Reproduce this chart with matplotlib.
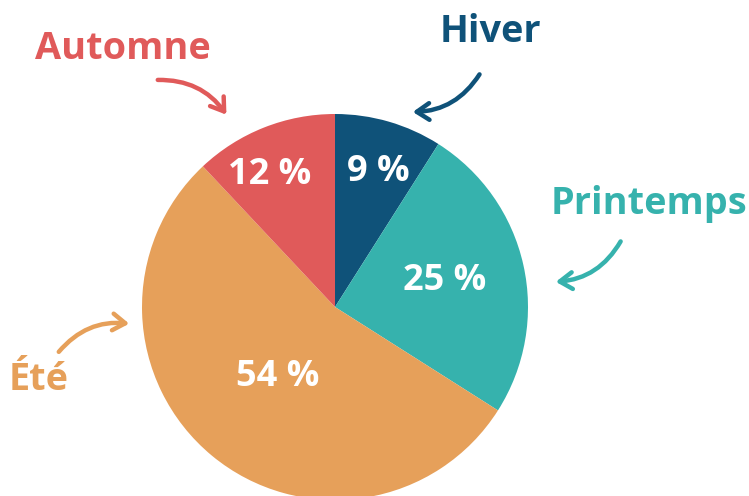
import matplotlib.pyplot as plt
from matplotlib.patches import FancyArrowPatch

# Data
seasons = ['Hiver', 'Printemps', 'Été', 'Automne']
shares = [9, 25, 54, 12]
colors = ['#0f5279', '#36b2ad', '#e6a05a', '#e05a5a']

# label positions (pixels, y measured from top) and arrows
label_pos = {'Hiver': (490, 32), 'Printemps': (649, 204), 'Été': (39, 380), 'Automne': (123, 49)}
arrows = {'Hiver': ((481, 72), (410, 112)),
          'Printemps': ((622, 239), (553, 282)),
          'Été': ((57, 354), (132, 324)),
          'Automne': ((155, 80), (228, 117))}
pct_pos = {'Hiver': (378, 172), 'Printemps': (445, 281), 'Été': (278, 377), 'Automne': (270, 175)}

W, H = 749, 496
plt.rcParams['font.family'] = ['Open Sans', 'DejaVu Sans']

fig = plt.figure(figsize=(W / 100, H / 100), dpi=100)
ax = fig.add_axes([0, 0, 1, 1])

ax.pie(shares, colors=colors, startangle=90, counterclock=False,
       center=(335, H - 307), radius=193, frame=True,
       wedgeprops=dict(linewidth=0))
ax.set_xlim(0, W)
ax.set_ylim(0, H)
ax.axis('off')

for s, v, c in zip(seasons, shares, colors):
    x, y = label_pos[s]
    ax.text(x, H - y, s, color=c, fontsize=27.3, fontweight='bold', ha='center', va='center')
    px, py = pct_pos[s]
    ax.text(px, H - py, f'{v} %', color='white', fontsize=26, fontweight='bold', ha='center', va='center')
    (x0, y0), (x1, y1) = arrows[s]
    arr = FancyArrowPatch((x0, H - y0), (x1, H - y1), connectionstyle='arc3,rad=-0.28',
                          arrowstyle='->,head_length=9,head_width=6', color=c,
                          linewidth=3.2, capstyle='round', joinstyle='round')
    ax.add_patch(arr)

fig.savefig('out.png', dpi=100)
